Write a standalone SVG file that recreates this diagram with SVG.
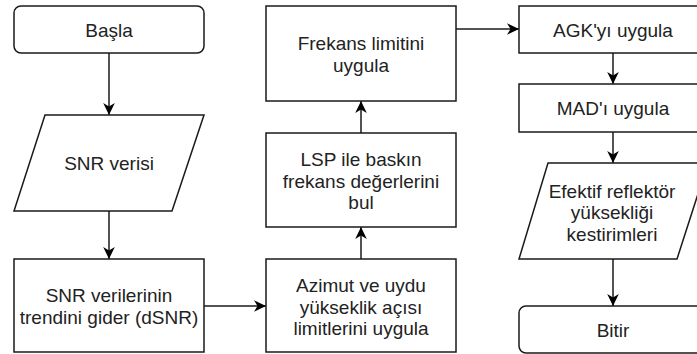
<svg xmlns="http://www.w3.org/2000/svg" width="697" height="354" viewBox="0 0 697 354">
<style>
.box{fill:#fff;stroke:#1a1a1a;stroke-width:1.5}
.t{font-family:"Liberation Sans",Arial,sans-serif;font-size:19px;fill:#222;text-anchor:middle}
.c{fill:none;stroke:#1a1a1a;stroke-width:1.5;marker-end:url(#arr)}
</style>
<defs>
<marker id="arr" markerUnits="userSpaceOnUse" viewBox="-13 -7 14 14" markerWidth="14" markerHeight="14" refX="0" refY="0" orient="auto">
<path d="M0,0 L-12,-5.8 L-8.5,0 L-12,5.8 Z" fill="#000"/>
</marker>
</defs>
<rect width="697" height="354" fill="#fff"/>
<g id="connectors">
<path class="c" d="M109,53 V115"/>
<path class="c" d="M109,211 V259"/>
<path class="c" d="M204,306 H266"/>
<path class="c" d="M361,259 V227"/>
<path class="c" d="M361,133 V101"/>
<path class="c" d="M456,29 H519"/>
<path class="c" d="M613,53 V84"/>
<path class="c" d="M613,132 V163"/>
<path class="c" d="M613,259 V306"/>
</g>
<g id="basla">
<rect class="box" x="14" y="6" width="190" height="47" rx="7"/>
<text class="t" x="109" y="36.5">Başla</text>
</g>
<g id="snr-verisi">
<path class="box" d="M45,115 H204 L172,211 H14 Z"/>
<text class="t" x="109" y="170">SNR verisi</text>
</g>
<g id="trend">
<rect class="box" x="14" y="259" width="190" height="93"/>
<text class="t" x="109" y="302">SNR verilerinin</text>
<text class="t" x="109" y="324">trendini gider (dSNR)</text>
</g>
<g id="azimut">
<rect class="box" x="266" y="259" width="190" height="93"/>
<text class="t" x="361" y="292">Azimut ve uydu</text>
<text class="t" x="361" y="313.5">yükseklik açısı</text>
<text class="t" x="361" y="335">limitlerini uygula</text>
</g>
<g id="lsp">
<rect class="box" x="266" y="133" width="190" height="94"/>
<text class="t" x="361" y="166">LSP ile baskın</text>
<text class="t" x="361" y="187.5">frekans değerlerini</text>
<text class="t" x="361" y="209">bul</text>
</g>
<g id="frekans">
<rect class="box" x="266" y="6" width="190" height="95"/>
<text class="t" x="361" y="50">Frekans limitini</text>
<text class="t" x="361" y="72">uygula</text>
</g>
<g id="agk">
<rect class="box" x="519" y="6" width="190" height="47"/>
<text class="t" x="613" y="36.5">AGK'yı uygula</text>
</g>
<g id="mad">
<rect class="box" x="519" y="84" width="190" height="48"/>
<text class="t" x="613" y="115">MAD'ı uygula</text>
</g>
<g id="efektif">
<path class="box" d="M548,163 H708 L677,259 H519 Z"/>
<text class="t" x="612" y="197.5">Efektif reflektör</text>
<text class="t" x="612" y="219">yüksekliği</text>
<text class="t" x="612" y="240.5">kestirimleri</text>
</g>
<g id="bitir">
<rect class="box" x="519" y="306" width="190" height="47" rx="7"/>
<text class="t" x="613" y="336.5">Bitir</text>
</g>
</svg>
